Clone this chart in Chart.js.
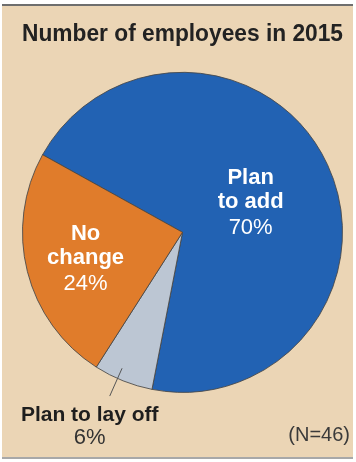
<!DOCTYPE html>
<html>
<head>
<meta charset="utf-8">
<script src="https://cdn.jsdelivr.net/npm/chart.js@4.4.1/dist/chart.umd.min.js"></script>
<style>
  html, body { margin: 0; padding: 0; background: #ffffff; }
  #wrap { position: relative; width: 356px; height: 462px; }
</style>
</head>
<body>
<div id="wrap"><canvas id="c"></canvas></div>
<script>
// ---- data ----
const categories = ['Plan to add', 'Plan to lay off', 'No change'];
const values = [70, 6, 24];
const percentLabels = ['70%', '6%', '24%'];
const boldLines = [['Plan', 'to add'], ['Plan to lay off'], ['No', 'change']];
const titleText = 'Number of employees in 2015';
const noteText = '(N=46)';

const colors = ['#2262b3', '#bcc6d3', '#e07c2b'];
const FONT = '"Liberation Sans", Arial, sans-serif';

const framePlugin = {
  id: 'frame',
  beforeDraw(chart) {
    const ctx = chart.ctx;
    const W = chart.width, H = chart.height;
    ctx.save();
    ctx.fillStyle = '#ffffff';
    ctx.fillRect(0, 0, W, H);
    ctx.fillStyle = '#ebd5b5';
    ctx.fillRect(2, 5, W - 5, H - 9);
    ctx.fillStyle = '#6e6e6e';
    ctx.fillRect(2, 4, W - 5, 2);
    ctx.fillStyle = '#a8a8a8';
    ctx.fillRect(2, H - 5, W - 5, 2);
    ctx.restore();
  }
};

const labelPlugin = {
  id: 'sliceLabels',
  afterDatasetsDraw(chart) {
    const ctx = chart.ctx;
    const arcs = chart.getDatasetMeta(0).data;
    ctx.save();
    ctx.textAlign = 'center';
    ctx.textBaseline = 'alphabetic';

    const inside = [
      { i: 0, frac: 0.47, color: '#ffffff' },
      { i: 2, frac: 0.625, color: '#ffffff' }
    ];
    inside.forEach(o => {
      const a = arcs[o.i];
      const mid = (a.startAngle + a.endAngle) / 2;
      const r = a.outerRadius * o.frac;
      const x = a.x + Math.cos(mid) * r;
      const y = a.y + Math.sin(mid) * r;
      ctx.fillStyle = o.color;
      ctx.font = 'bold 22px ' + FONT;
      ctx.fillText(boldLines[o.i][0], x, y - 17);
      ctx.fillText(boldLines[o.i][1], x, y + 7);
      ctx.font = '22px ' + FONT;
      ctx.fillText(percentLabels[o.i], x, y + 33);
    });

    // leader for small slice
    const s = arcs[1];
    const ang = s.startAngle + 0.6 * (s.endAngle - s.startAngle);
    const r1 = s.outerRadius * 0.93, r2 = s.outerRadius * 1.12;
    ctx.strokeStyle = '#555555';
    ctx.lineWidth = 1;
    ctx.beginPath();
    ctx.moveTo(s.x + Math.cos(ang) * r1, s.y + Math.sin(ang) * r1);
    ctx.lineTo(s.x + Math.cos(ang) * r2, s.y + Math.sin(ang) * r2);
    ctx.stroke();

    const lx = s.x + Math.cos(ang) * r2 - 20;
    const ly = s.y + Math.sin(ang) * r2;
    ctx.fillStyle = '#1e1e1e';
    ctx.font = 'bold 21px ' + FONT;
    ctx.fillText(boldLines[1][0], lx, ly + 25);
    ctx.fillStyle = '#333333';
    ctx.font = '22px ' + FONT;
    ctx.fillText(percentLabels[1], lx, ly + 48);

    // note
    ctx.textAlign = 'right';
    ctx.font = '20px ' + FONT;
    ctx.fillStyle = '#3a3a3a';
    ctx.fillText(noteText, chart.width - 6, ly + 45);
    ctx.restore();
  }
};

new Chart(document.getElementById('c'), {
  type: 'pie',
  data: {
    labels: categories,
    datasets: [{
      data: values,
      backgroundColor: colors,
      borderColor: 'rgba(70,70,70,0.85)',
      borderWidth: 1
    }]
  },
  options: {
    responsive: true,
    maintainAspectRatio: false,
    animation: false,
    rotation: -61,
    layout: { padding: { left: 22, right: 13, top: 0, bottom: 68 } },
    plugins: {
      legend: { display: false },
      tooltip: { enabled: false },
      title: {
        display: true,
        text: titleText,
        color: '#222222',
        font: { family: FONT, size: 23, weight: 'bold' },
        padding: { top: 21, bottom: 22 }
      }
    }
  },
  plugins: [framePlugin, labelPlugin]
});
</script>
</body>
</html>
